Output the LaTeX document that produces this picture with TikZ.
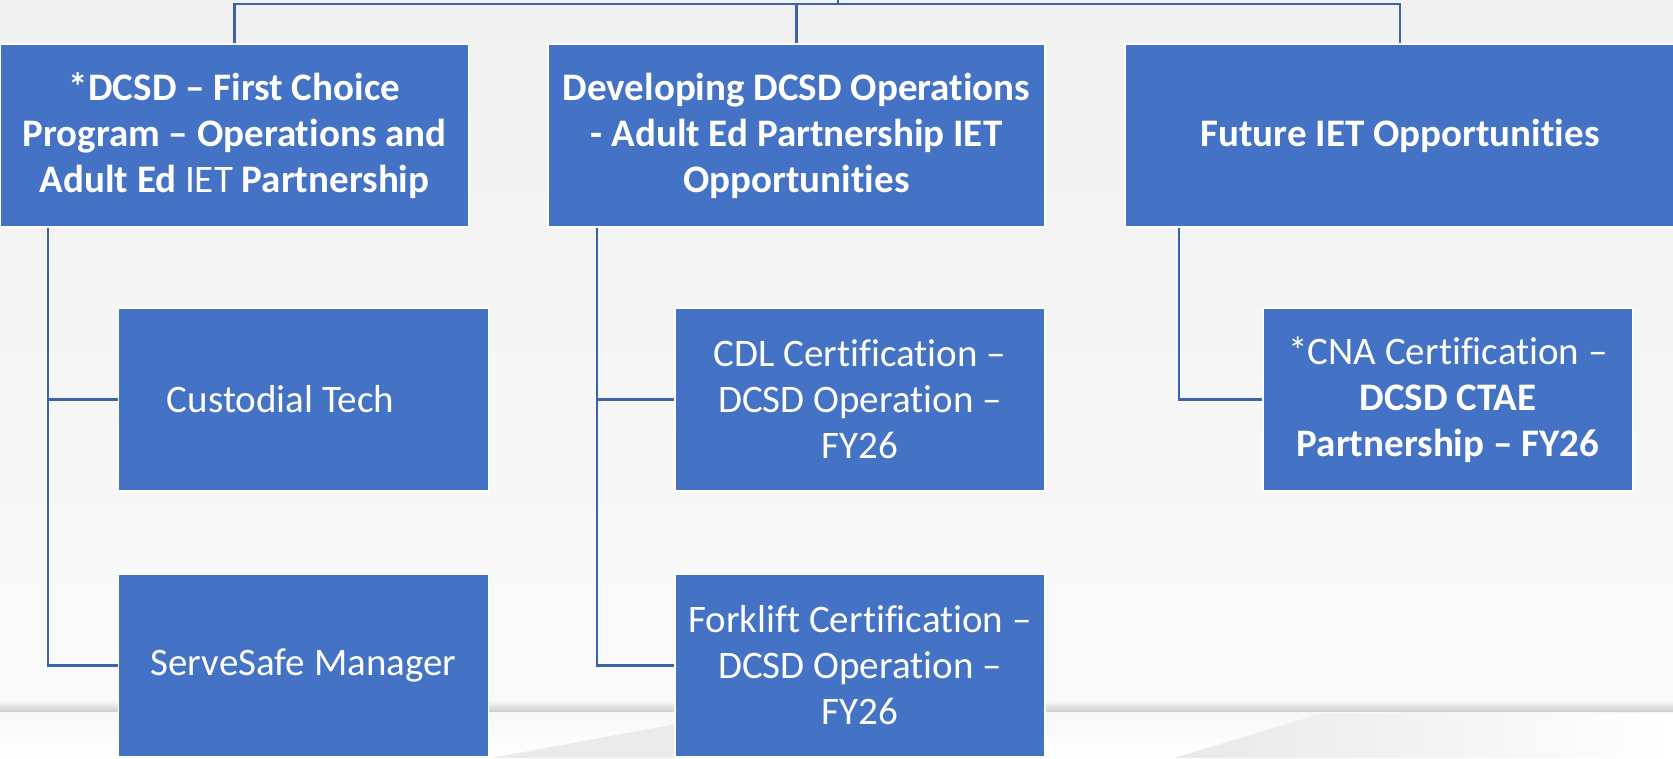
\documentclass[tikz,border=0pt]{standalone}
\usepackage{fontspec}
\setmainfont{Carlito}[Ligatures=NoCommon]
\usetikzlibrary{calc}
\definecolor{boxblue}{HTML}{4472C4}
\definecolor{linkblue}{HTML}{3C62AC}
\definecolor{bgtop}{HTML}{F1F1F1}
\definecolor{bgbot}{HTML}{FAFAFA}
\begin{document}
\begin{tikzpicture}[x=1pt,y=-1pt,
  box/.style={rectangle,fill=boxblue,draw=white,line width=1.5pt,text=white,
    align=center,inner sep=0pt,font=\fontsize{39}{46}\selectfont},
  topbox/.style={box,minimum height=183pt},
  childbox/.style={box,minimum width=370pt,minimum height=183pt},
  link/.style={draw=linkblue,line width=2.2pt}]
\useasboundingbox (0,0) rectangle (1673,758);
% background
\fill[top color=bgtop,bottom color=bgbot] (0,0) rectangle (1673,700);
\fill[top color=bgbot,bottom color=black!20] (0,700) rectangle (1673,712);
\fill[top color=black!3,bottom color=white] (0,712) rectangle (1673,758);
\fill[black!8] (491,758) -- (676,724) -- (676,758) -- cycle;
\shade[left color=black!9,right color=white] (1174,758) -- (1323,713) -- (1673,713) -- (1673,758) -- cycle;
% top-level boxes
\node[topbox,minimum width=468pt] (b1) at (234.5,135.5)
  {\textbf{*DCSD – First Choice}\\\textbf{Program – Operations and}\\\textbf{Adult Ed} IET \textbf{Partnership}};
\node[topbox,minimum width=497pt] (b2) at (796.5,135.5)
  {\textbf{Developing DCSD Operations}\\\textbf{- Adult Ed Partnership IET}\\\textbf{Opportunities}};
\node[topbox,minimum width=550pt] (b3) at (1400,135.5)
  {\textbf{Future IET Opportunities}};
% child boxes
\node[childbox] (c1) at (303.5,399.5) {Custodial Tech\hspace*{46pt}};
\node[childbox] (c2) at (303.5,665.5) {ServeSafe Manager};
\node[childbox] (d1) at (860,399.5) {CDL Certification –\\DCSD Operation –\\FY26};
\node[childbox] (d2) at (860,665.5) {Forklift Certification –\\DCSD Operation –\\FY26};
\node[childbox] (e1) at (1448,399.5) {*CNA Certification –\\\textbf{DCSD CTAE}\\\textbf{Partnership – FY26}};
% connectors
\coordinate (root) at (838,-2);
\coordinate (bus) at (838,4);
\draw[link] (root) -- (bus);
\draw[link] (bus) -| (b1.north);
\draw[link] (bus) -| (b2.north);
\draw[link] (bus) -| (b3.north);
\draw[link] (b1.south west) ++(48,0) |- (c1.west);
\draw[link] (b1.south west) ++(48,0) |- (c2.west);
\draw[link] (b2.south west) ++(49.5,0) |- (d1.west);
\draw[link] (b2.south west) ++(49.5,0) |- (d2.west);
\draw[link] (b3.south west) ++(55,0) |- (e1.west);
\end{tikzpicture}
\end{document}
